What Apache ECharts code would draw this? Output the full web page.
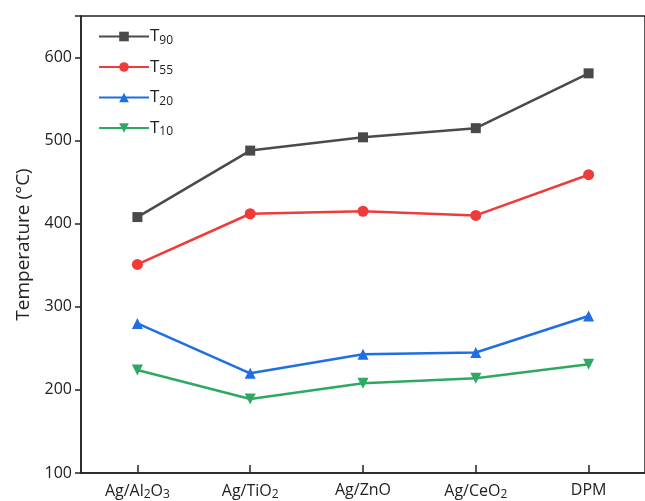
<!DOCTYPE html>
<html>
<head>
<meta charset="utf-8">
<script src="https://cdn.jsdelivr.net/npm/echarts@6/dist/echarts.min.js"></script>
<style>
  html, body { margin: 0; padding: 0; background: #fff; }
  #chart { width: 645px; height: 501px; }
</style>
</head>
<body>
<div id="chart"></div>
<script>
// catalysts on the x axis (rich text for subscripts)
const categories = ['Ag/Al{s|2}O{s|3}', 'Ag/TiO{s|2}', 'Ag/ZnO', 'Ag/CeO{s|2}', 'DPM']
const yTicks = [100, 200, 300, 400, 500, 600]

// light-off temperatures (°C)
const t90 = [408, 488, 504, 515, 581]
const t55 = [351, 412, 415, 410, 459]
const t20 = [280, 220, 243, 245, 289]
const t10 = [224, 189, 208, 214, 231]

const seriesNames = ['T90', 'T55', 'T20', 'T10']

const chart = echarts.init(document.getElementById('chart'))

const mkSeries = (name, data, color, symbol, rotate) => ({
  name: name,
  type: 'line',
  data: data,
  symbol: symbol,
  symbolSize: symbol === 'rect' ? 10 : 11,
  symbolRotate: rotate || 0,
  color: color,
  lineStyle: { width: 2.5, color: color },
  itemStyle: { color: color },
  emphasis: { disabled: true }
})

const subRich = {
  s: { fontSize: 12, padding: [7, 0, 0, 0], fontFamily: 'Open Sans', color: '#222' }
}

chart.setOption({
  animation: false,
  textStyle: { fontFamily: 'Open Sans' },
  grid: {
    left: 81,
    right: -2,
    top: 16,
    bottom: 28,
    show: true,
    borderColor: '#222',
    borderWidth: 1.5
  },
  legend: {
    left: 98,
    top: 28,
    padding: 0,
    orient: 'vertical',
    itemWidth: 50,
    itemHeight: 12,
    itemGap: 12,
    data: seriesNames,
    formatter: (n) => 'T{s|' + n.slice(1) + '}',
    textStyle: {
      fontSize: 17,
      color: '#222',
      padding: [0, 0, 0, -4],
      rich: {
        s: { fontSize: 12, padding: [8, 0, 0, 0], fontFamily: 'Open Sans', color: '#222' }
      }
    }
  },
  xAxis: {
    type: 'category',
    data: categories,
    boundaryGap: true,
    axisLine: { lineStyle: { color: '#222', width: 1.5 } },
    axisTick: { show: true, inside: true, length: 8, alignWithLabel: true, interval: 0, lineStyle: { color: '#222', width: 1.5 } },
    axisLabel: {
      interval: 0,
      fontSize: 16,
      color: '#222',
      margin: 9,
      rich: subRich
    }
  },
  yAxis: {
    type: 'value',
    min: 100,
    max: 650,
    interval: 100,
    name: 'Temperature (°C)',
    nameLocation: 'middle',
    nameGap: 48,
    nameTextStyle: { fontSize: 19, color: '#222' },
    splitLine: { show: false },
    axisLine: { show: true, lineStyle: { color: '#222', width: 1.5 } },
    axisTick: { show: true, length: 6, lineStyle: { color: '#222', width: 1.5 } },
    axisLabel: {
      fontSize: 16,
      color: '#222',
      margin: 9,
      formatter: (v) => yTicks.includes(v) ? String(v) : ''
    }
  },
  series: [
    mkSeries('T90', t90, '#4a4a4a', 'rect'),
    mkSeries('T55', t55, '#f03b3b', 'circle'),
    mkSeries('T20', t20, '#1f6fe3', 'triangle'),
    mkSeries('T10', t10, '#2ea863', 'triangle', 180)
  ]
})
</script>
</body>
</html>
